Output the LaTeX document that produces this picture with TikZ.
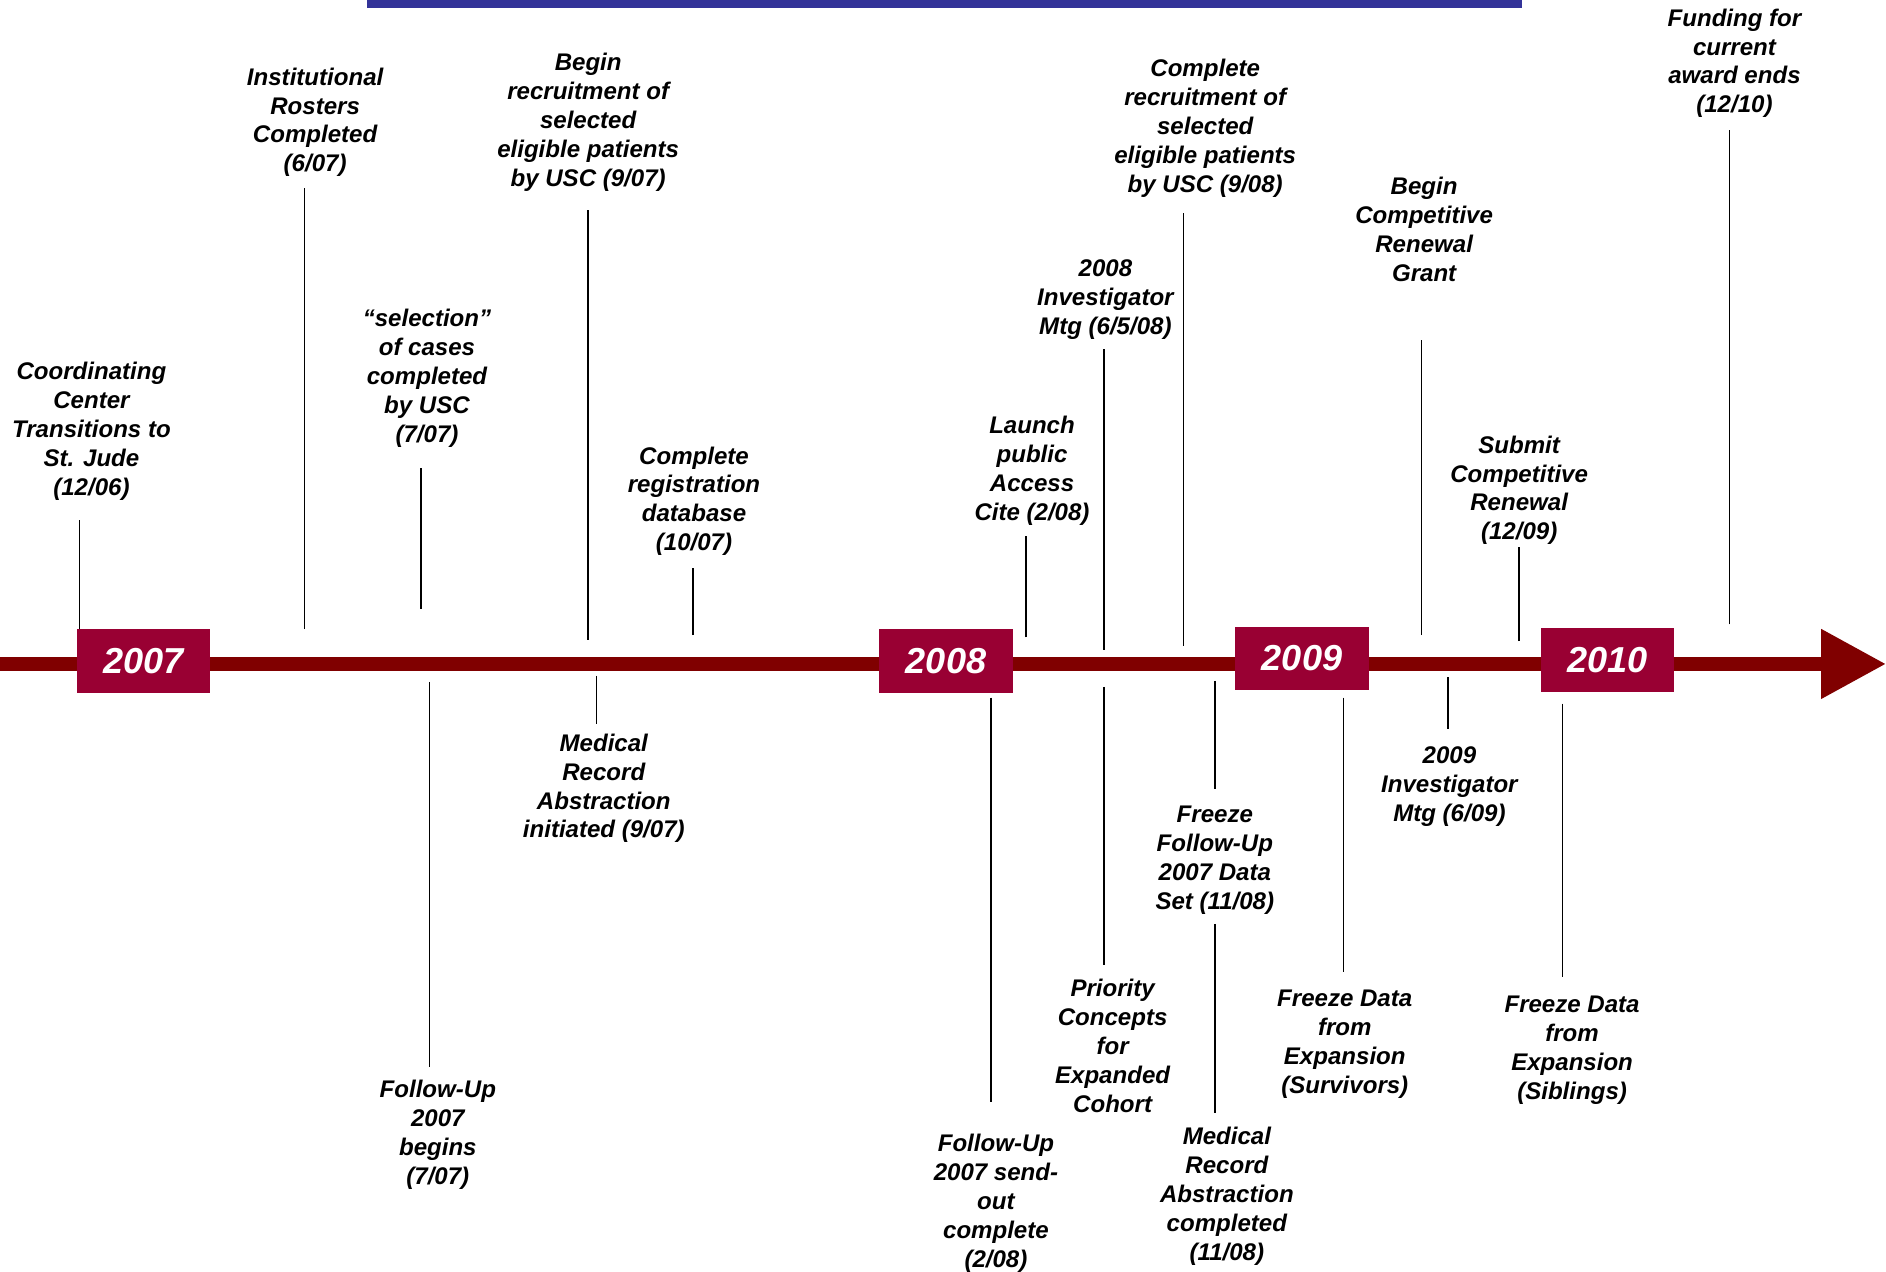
\documentclass[tikz,border=0pt]{standalone}
\usepackage{fontspec}
\setmainfont{Liberation Sans}
\usetikzlibrary{arrows.meta,positioning,calc}
\definecolor{barred}{HTML}{800000}
\definecolor{boxred}{HTML}{990033}
\definecolor{topblue}{HTML}{333399}

\begin{document}
\begin{tikzpicture}[x=1pt,y=-1pt,
    evt/.style={align=center,inner sep=0pt,text depth=5pt,
        font=\fontsize{20}{24}\selectfont\bfseries\itshape},
    yearbox/.style={fill=boxred,text=white,inner sep=0pt,
        minimum width=111pt,minimum height=53pt,
        font=\fontsize{30}{36}\selectfont\bfseries\itshape},
    stem/.style={line width=1.2pt}]
    \useasboundingbox (0,0) rectangle (1568,1057);

    % Title rule
    \fill[topblue] (305,0) rectangle (1265,6.3);

    % Timeline
    \coordinate (start) at (0,552);
    \coordinate (end) at (1568,552);
    \draw[barred,line width=11.5pt,-{Triangle[length=54pt,width=55pt]}] (start) -- (end);

    \node[yearbox] (y07) at (119.5,549.5) {2007};
    \node[yearbox] (y08) at (786.5,549.5) {2008};
    \node[yearbox] (y09) at (1082.5,547.5) {2009};
    \node[yearbox] (y10) at (1336.5,549) {2010};

    % Events above the line
    \node[evt,anchor=south] (l1) at (76,417) {Coordinating\\Center\\Transitions to\\St. Jude\\(12/06)};
    \node[evt,anchor=south] (l2) at (262,148) {Institutional\\Rosters\\Completed\\(6/07)};
    \node[evt,anchor=south] (l3) at (355,373) {“selection”\\of cases\\completed\\by USC\\(7/07)};
    \node[evt,anchor=south] (l4) at (489,160) {Begin\\recruitment of\\selected\\eligible patients\\by USC (9/07)};
    \node[evt,anchor=south] (l5) at (577,463) {Complete\\registration\\database\\(10/07)};
    \node[evt,anchor=south] (l6) at (858,438) {Launch\\public\\Access\\Cite (2/08)};
    \node[evt,anchor=south] (l7) at (919,283) {2008\\Investigator\\Mtg (6/5/08)};
    \node[evt,anchor=south] (l8) at (1002,165) {Complete\\recruitment of\\selected\\eligible patients\\by USC (9/08)};
    \node[evt,anchor=south] (l9) at (1184,239) {Begin\\Competitive\\Renewal\\Grant};
    \node[evt,anchor=south] (l10) at (1263,454) {Submit\\Competitive\\Renewal\\(12/09)};
    \node[evt,anchor=south] (l11) at (1442,99) {Funding for\\current\\award ends\\(12/10)};

    \coordinate (a1) at (66,523);
    \coordinate (a2) at (253,523);
    \coordinate (a3) at (350,506);
    \coordinate (a4) at (489,532);
    \coordinate (a5) at (576,528);
    \coordinate (a6) at (853,530);
    \coordinate (a7) at (918,540);
    \coordinate (a8) at (984,537);
    \coordinate (a9) at (1182,528);
    \coordinate (a10) at (1263,533);
    \coordinate (a11) at (1438,519);

    \draw[stem,shorten >=15pt] (a1) -- (a1 |- l1.south);
    \draw[stem,shorten >=8pt] (a2) -- (a2 |- l2.south);
    \draw[stem,shorten >=16pt] (a3) -- (a3 |- l3.south);
    \draw[stem,shorten >=15pt] (a4) -- (a4 |- l4.south);
    \draw[stem,shorten >=9pt] (a5) -- (a5 |- l5.south);
    \draw[stem,shorten >=8pt] (a6) -- (a6 |- l6.south);
    \draw[stem,shorten >=7pt] (a7) -- (a7 |- l7.south);
    \draw[stem,shorten >=12pt] (a8) -- (a8 |- l8.south);
    \draw[stem,shorten >=44pt] (a9) -- (a9 |- l9.south);
    \draw[stem,shorten >=1pt] (a10) -- (a10 |- l10.south);
    \draw[stem,shorten >=9pt] (a11) -- (a11 |- l11.south);

    % Events below the line
    \node[evt,anchor=north] (m1) at (364,898) {Follow-Up\\2007\\begins\\(7/07)};
    \node[evt,anchor=north] (m2) at (502,610) {Medical\\Record\\Abstraction\\initiated (9/07)};
    \node[evt,anchor=north] (m3) at (828,943) {Follow-Up\\2007 send-\\out\\complete\\(2/08)};
    \node[evt,anchor=north] (m4) at (925,814) {Priority\\Concepts\\for\\Expanded\\Cohort};
    \node[evt,anchor=north] (m5) at (1010,670) {Freeze\\Follow-Up\\2007 Data\\Set (11/08)};
    \node[evt,anchor=north] (m6) at (1020,937) {Medical\\Record\\Abstraction\\completed\\(11/08)};
    \node[evt,anchor=north] (m7) at (1118,823) {Freeze Data\\from\\Expansion\\(Survivors)};
    \node[evt,anchor=north] (m8) at (1205,621) {2009\\Investigator\\Mtg (6/09)};
    \node[evt,anchor=north] (m9) at (1307,828) {Freeze Data\\from\\Expansion\\(Siblings)};

    \coordinate (b1) at (357,567);
    \coordinate (b2) at (496,562);
    \coordinate (b3) at (824,580);
    \coordinate (b4) at (918,571);
    \coordinate (b5) at (1010,566);
    \coordinate (b6) at (1117,580);
    \coordinate (b7) at (1204,563);
    \coordinate (b8) at (1299,585);

    \draw[stem,shorten >=11pt] (b1) -- (b1 |- m1.north);
    \draw[stem,shorten >=8pt] (b2) -- (b2 |- m2.north);
    \draw[stem,shorten >=27pt] (b3) -- (b3 |- m3.north);
    \draw[stem,shorten >=12pt] (b4) -- (b4 |- m4.north);
    \draw[stem,shorten >=14pt] (b5) -- (b5 |- m5.north);
    \draw[stem,shorten >=15pt] (b6) -- (b6 |- m7.north);
    \draw[stem,shorten >=15pt] (b7) -- (b7 |- m8.north);
    \draw[stem,shorten >=16pt] (b8) -- (b8 |- m9.north);
    \draw[stem,shorten <=7pt,shorten >=12pt] (m5.south) -- (m5.south |- m6.north);
\end{tikzpicture}
\end{document}
